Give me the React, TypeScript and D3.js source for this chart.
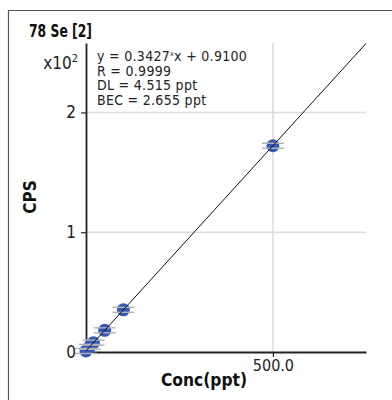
import React, { useEffect, useRef } from 'react'
import * as d3 from 'd3'

// calibration standards (ppt) and measured CPS
const concs = [0, 10, 20, 50, 100, 500]
const cps = [0.9, 4.3, 7.8, 18.1, 35.2, 172.2]

const slope = 0.3427
const intercept = 0.91

const yTicks = [0, 100, 200]
const yTickLabels = ['0', '1', '2']
const xTicks = [500]
const xTickLabels = ['500.0']

const statLines = [
  'y = 0.3427*x + 0.9100',
  'R = 0.9999',
  'DL = 4.515 ppt',
  'BEC = 2.655 ppt',
]

const FONT = "'DejaVu Sans Condensed', 'Liberation Sans Narrow', 'Roboto', sans-serif"

export default function App() {
  const svgRef = useRef<SVGSVGElement>(null)

  useEffect(() => {
    if (!svgRef.current) return
    const svg = d3.select(svgRef.current)
    svg.selectAll('*').remove()

    const width = 392
    const height = 400
    const margin = { top: 43, right: 26, bottom: 48, left: 86 }
    const innerWidth = width - margin.left - margin.right
    const innerHeight = height - margin.top - margin.bottom

    // outer frame (left + top)
    svg.append('path')
      .attr('d', `M8.5,${height}V10.5H${width}`)
      .attr('fill', 'none')
      .attr('stroke', '#555')
      .attr('stroke-width', 1.2)

    const x = d3.scaleLinear().domain([0, 749]).range([0, innerWidth])
    const y = d3.scaleLinear().domain([0, 258]).range([innerHeight, 0])

    const g = svg.append('g').attr('transform', `translate(${margin.left},${margin.top})`)

    // grid
    g.selectAll('.hgrid')
      .data(yTicks.filter((d) => d > 0))
      .join('line')
      .attr('x1', 0)
      .attr('x2', innerWidth)
      .attr('y1', (d) => y(d))
      .attr('y2', (d) => y(d))
      .attr('stroke', '#dcdcdc')
      .attr('stroke-width', 1.5)

    g.selectAll('.vgrid')
      .data(xTicks)
      .join('line')
      .attr('x1', (d) => x(d))
      .attr('x2', (d) => x(d))
      .attr('y1', 0)
      .attr('y2', innerHeight)
      .attr('stroke', '#dcdcdc')
      .attr('stroke-width', 1.5)

    // axes
    const xAxis = g.append('g')
      .attr('transform', `translate(0,${innerHeight})`)
      .call(
        d3.axisBottom(x)
          .tickValues(xTicks)
          .tickSize(5)
          .tickSizeOuter(0)
          .tickFormat((d, i) => xTickLabels[i])
      )
    xAxis.select('.domain').attr('stroke', '#222').attr('stroke-width', 1.8)
    xAxis.selectAll('.tick line').attr('stroke', '#222').attr('stroke-width', 1.2)
    xAxis.selectAll('text')
      .attr('font-family', FONT)
      .attr('font-size', 16)
      .attr('fill', '#222')
      .attr('dy', '0.71em')

    const yAxis = g.append('g')
      .call(
        d3.axisLeft(y)
          .tickValues(yTicks)
          .tickSize(5)
          .tickSizeOuter(0)
          .tickFormat((d, i) => yTickLabels[i])
      )
    yAxis.select('.domain').attr('stroke', '#222').attr('stroke-width', 1.8)
    yAxis.selectAll('.tick line').attr('stroke', '#222').attr('stroke-width', 1.2)
    yAxis.selectAll('text')
      .attr('font-family', FONT)
      .attr('font-size', 17)
      .attr('fill', '#222')
      .attr('x', -10)

    // regression line
    const xEnd = (y.domain()[1] - intercept) / slope
    const fit = d3.line<number>()
      .x((d) => x(d))
      .y((d) => y(slope * d + intercept))

    const pts = concs.map((c, i) => ({ c, v: cps[i] }))

    g.selectAll('.pt')
      .data(pts)
      .join('circle')
      .attr('cx', (d) => x(d.c))
      .attr('cy', (d) => y(d.v))
      .attr('r', 6.5)
      .attr('fill', '#3457b8')

    // replicate marks
    ;[-2.5, 2.5].forEach((off) => {
      g.selectAll(null)
        .data(pts)
        .join('line')
        .attr('x1', (d) => x(d.c) - 11)
        .attr('x2', (d) => x(d.c) + 11)
        .attr('y1', (d) => y(d.v) + off)
        .attr('y2', (d) => y(d.v) + off)
        .attr('stroke', '#b0b2bc')
        .attr('stroke-width', 1.4)
    })

    g.append('path')
      .datum([0, Math.min(xEnd, x.domain()[1])])
      .attr('d', fit)
      .attr('fill', 'none')
      .attr('stroke', '#111')
      .attr('stroke-width', 1)

    // texts
    svg.append('text')
      .attr('x', 29)
      .attr('y', 37)
      .attr('font-family', FONT)
      .attr('font-size', 17)
      .attr('font-weight', 'bold')
      .attr('fill', '#111')
      .attr('textLength', 63)
      .attr('lengthAdjust', 'spacingAndGlyphs')
      .text('78 Se [2]')

    const mult = svg.append('text')
      .attr('x', 78)
      .attr('y', 69)
      .attr('text-anchor', 'end')
      .attr('font-family', FONT)
      .attr('font-size', 17)
      .attr('fill', '#222')
    mult.append('tspan').text('x10')
    mult.append('tspan').attr('dy', -7).attr('font-size', 11).text('2')

    svg.append('g')
      .selectAll('text')
      .data(statLines)
      .join('text')
      .attr('x', 97)
      .attr('y', (d, i) => 61 + i * 14.5)
      .attr('font-family', FONT)
      .attr('font-size', 14)
      .attr('letter-spacing', 0.3)
      .attr('fill', '#222')
      .each(function (d) {
        const t = d3.select(this)
        if (d.includes('*')) {
          const [a, b] = d.split('*')
          t.append('tspan').text(a)
          t.append('tspan').attr('font-size', 7).attr('dy', -5).text('x')
          t.append('tspan').attr('dy', 5).text(b)
        } else {
          t.text(d)
        }
      })

    svg.append('text')
      .attr('transform', `translate(36,197) rotate(-90)`)
      .attr('text-anchor', 'middle')
      .attr('font-family', FONT)
      .attr('font-size', 17)
      .attr('font-weight', 'bold')
      .attr('fill', '#111')
      .text('CPS')

    svg.append('text')
      .attr('x', 247)
      .attr('y', 386)
      .attr('text-anchor', 'end')
      .attr('font-family', FONT)
      .attr('font-size', 17)
      .attr('font-weight', 'bold')
      .attr('fill', '#111')
      .attr('textLength', 86)
      .attr('lengthAdjust', 'spacingAndGlyphs')
      .text('Conc(ppt)')
  }, [])

  return (
    <svg
      ref={svgRef}
      width={392}
      height={400}
      style={{ position: 'absolute', left: 0, top: 0, display: 'block', background: '#fff' }}
    />
  )
}
